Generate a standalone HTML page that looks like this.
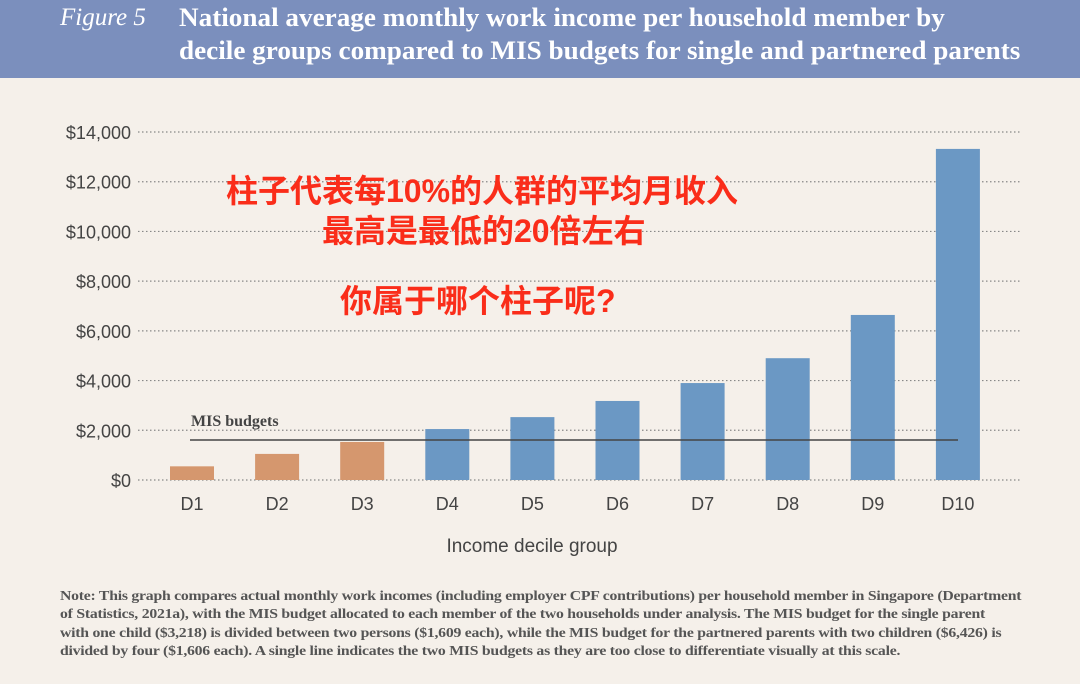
<!DOCTYPE html>
<html><head><meta charset="utf-8"><style>
body{margin:0;width:1080px;height:684px;overflow:hidden;background:#f5f0ea;font-family:"Liberation Sans",sans-serif;position:relative}
#hdr{position:absolute;left:0;top:0;width:1080px;height:78px;background:#7b8fbd}
.t{position:absolute;color:#fff;font-family:"Liberation Serif",serif;font-size:23px;white-space:nowrap}
.cn{position:absolute;color:#fa2d1a;font-weight:bold;font-size:32px;font-family:"Liberation Sans","Noto Sans CJK SC",sans-serif;white-space:nowrap}
.note{position:absolute;left:60px;color:#555;font-family:"Liberation Serif",serif;font-weight:bold;font-size:13.4px;white-space:nowrap;letter-spacing:-0.2px;transform:scaleX(1.175);transform-origin:0 0}
</style></head><body>
<div id="hdr"></div>
<div class="t" style="left:60px;top:4px;font-style:italic;font-size:25px">Figure 5</div>
<div class="t" style="left:179px;top:1px;font-weight:bold;font-size:26px;line-height:33px;transform:scaleX(1.045);transform-origin:0 0">National average monthly work income per household member by<br>decile groups compared to MIS budgets for single and partnered parents</div>
<svg id="chart" width="1080" height="684" style="position:absolute;left:0;top:0"></svg>
<div class="cn" style="left:226px;top:166px">柱子代表每10%的人群的平均月收入</div>
<div class="cn" style="left:322px;top:206px">最高是最低的20倍左右</div>
<div class="cn" style="left:340px;top:276px">你属于哪个柱子呢?</div>
<div>
<div class="note" style="top:588px">Note: This graph compares actual monthly work incomes (including employer CPF contributions) per household member in Singapore (Department</div>
<div class="note" style="top:606px">of Statistics, 2021a), with the MIS budget allocated to each member of the two households under analysis. The MIS budget for the single parent</div>
<div class="note" style="top:625px">with one child ($3,218) is divided between two persons ($1,609 each), while the MIS budget for the partnered parents with two children ($6,426) is</div>
<div class="note" style="top:643px">divided by four ($1,606 each). A single line indicates the two MIS budgets as they are too close to differentiate visually at this scale.</div>
</div>
<script>
const categories=["D1","D2","D3","D4","D5","D6","D7","D8","D9","D10"];
const values=[550,1050,1530,2050,2530,3180,3900,4900,6640,13320];
const belowMIS=[true,true,true,false,false,false,false,false,false,false];
const ticks=[0,2000,4000,6000,8000,10000,12000,14000];
const tickLabels=["$0","$2,000","$4,000","$6,000","$8,000","$10,000","$12,000","$14,000"];
const misBudget=1609;
const NS="http://www.w3.org/2000/svg";
const svg=document.getElementById('chart');
const y=v=>480-v*(348/14000);
const x=i=>192+i*85.1;
function mk(t,a){const e=document.createElementNS(NS,t);for(const k in a)e.setAttribute(k,a[k]);svg.appendChild(e);return e;}
ticks.forEach((t,i)=>{
 const l=mk('line',{x1:138,x2:1022,y1:y(t),y2:y(t),stroke:'#888','stroke-width':1.2,'stroke-dasharray':'1.5 2.5'});
 
 
 const tx=mk('text',{x:131,y:y(t)+7,'text-anchor':'end','font-size':18,fill:'#444','font-family':'Liberation Sans, sans-serif'});
 tx.textContent=tickLabels[i];
 
 
});
values.forEach((v,i)=>{
 const r=mk('rect',{x:x(i)-22,y:y(v),width:44,height:480-y(v),fill:belowMIS[i]?'#d5976e':'#6b98c4'});
 
 
 const t=mk('text',{x:x(i),y:510,'text-anchor':'middle','font-size':18,fill:'#444','font-family':'Liberation Sans, sans-serif'});
 t.textContent=categories[i];
 
 
});
const ml=mk('line',{x1:190,x2:958,y1:y(misBudget),y2:y(misBudget),stroke:'#444','stroke-width':1.6});


const mt=mk('text',{x:191,y:y(misBudget)-14,'font-size':16,'font-weight':'bold',fill:'#444','font-family':'Liberation Serif, serif'});
mt.textContent='MIS budgets';


const xt=mk('text',{x:532,y:552,'text-anchor':'middle','font-size':19,fill:'#444','font-family':'Liberation Sans, sans-serif'});
xt.textContent='Income decile group';


</script>
</body></html>
